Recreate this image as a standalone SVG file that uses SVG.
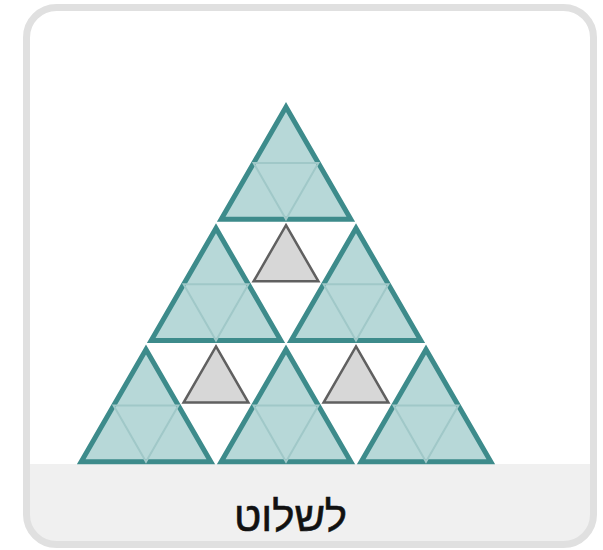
<svg xmlns="http://www.w3.org/2000/svg" xmlns:xlink="http://www.w3.org/1999/xlink" width="603" height="550" viewBox="0 0 603 550">
  <style>
    .tri { fill: #b7d8d8; stroke: #3d8b8b; stroke-width: 5; stroke-linejoin: miter; }
    .sub { fill: none; stroke: #a0c8c8; stroke-width: 2; }
    .hole { fill: #d7d7d7; stroke: #606060; stroke-width: 2.5; stroke-linejoin: miter; }
    .label { font-family: "Liberation Sans", "DejaVu Sans", sans-serif; font-size: 42px; fill: #111; stroke: #111; stroke-width: 0.6; }
  </style>
  <defs>
    <clipPath id="cardClip">
      <rect x="26.5" y="7.5" width="567" height="537" rx="30" ry="30"/>
    </clipPath>
    <g id="tealTri">
      <path class="tri" d="M0,6 L64.8,118.24 L-64.8,118.24 Z"/>
      <path class="sub" d="M-32.4,62.12 H32.4 L0,118.24 Z"/>
    </g>
    <path id="grayTri" class="hole" d="M0,3 L32.4,59.12 L-32.4,59.12 Z"/>
  </defs>

  <g id="card">
    <rect x="26.5" y="7.5" width="567" height="537" rx="30" ry="30" fill="#ffffff"/>
    <rect x="20" y="464" width="580" height="90" fill="#f0f0f0" clip-path="url(#cardClip)"/>
    <rect x="26.5" y="7.5" width="567" height="537" rx="30" ry="30" fill="none" stroke="#e0e0e0" stroke-width="7"/>
  </g>

  <g id="tri-top"><use xlink:href="#tealTri" transform="translate(286,101)"/></g>
  <g id="tri-mid-left"><use xlink:href="#tealTri" transform="translate(216,222.24)"/></g>
  <g id="tri-mid-right"><use xlink:href="#tealTri" transform="translate(356,222.24)"/></g>
  <g id="tri-bot-left"><use xlink:href="#tealTri" transform="translate(146,343.48)"/></g>
  <g id="tri-bot-mid"><use xlink:href="#tealTri" transform="translate(286,343.48)"/></g>
  <g id="tri-bot-right"><use xlink:href="#tealTri" transform="translate(426,343.48)"/></g>

  <g id="hole-top"><use xlink:href="#grayTri" transform="translate(286,222.24)"/></g>
  <g id="hole-left"><use xlink:href="#grayTri" transform="translate(216,343.48)"/></g>
  <g id="hole-right"><use xlink:href="#grayTri" transform="translate(356,343.48)"/></g>

  <g id="connectors"></g>

  <g id="caption">
    <text class="label" x="290.5" y="531" text-anchor="middle" direction="rtl">לשלוט</text>
  </g>
</svg>
